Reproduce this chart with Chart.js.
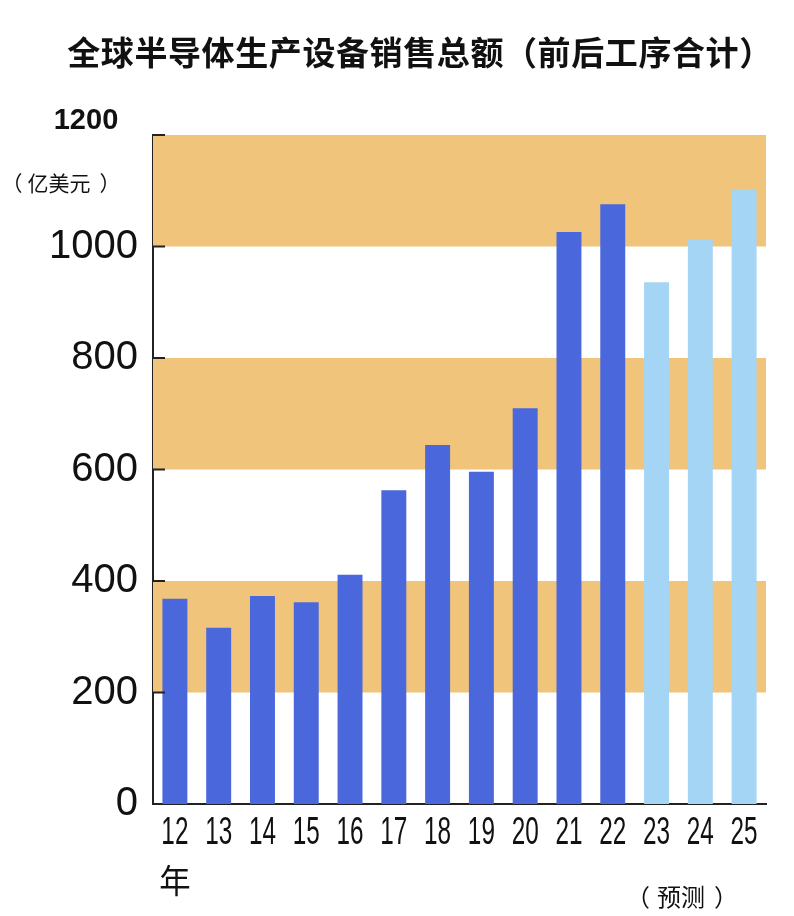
<!DOCTYPE html>
<html>
<head>
<meta charset="utf-8">
<script src="https://cdn.jsdelivr.net/npm/chart.js@4"></script>
<style>
  html, body { margin: 0; padding: 0; background: #fff; }
  #wrap { width: 794px; height: 916px; }
</style>
</head>
<body>
<div id="wrap"><canvas id="salesChart"></canvas></div>
<script>
const years = ['12', '13', '14', '15', '16', '17', '18', '19', '20', '21', '22', '23', '24', '25'];
const actualSales = [368, 316, 373, 362, 411, 563, 644, 596, 710, 1026, 1076, null, null, null];
const forecastSales = [null, null, null, null, null, null, null, null, null, null, null, 936, 1012, 1103];
const yTicks = [0, 200, 400, 600, 800, 1000, 1200];
const bands = [[200, 400], [600, 800], [1000, 1200]];

const titleText = '全球半导体生产设备销售总额（前后工序合计）';
const unitText = '亿美元';
const forecastText = '预测';

const cjk = '"Noto Sans CJK SC", "Noto Sans", sans-serif';
const latin = '"Liberation Sans", Arial, sans-serif';

// shaded bands behind the bars
const bandPlugin = {
    id: 'bands',
    beforeDatasetsDraw(chart) {
        const { ctx, chartArea, scales } = chart;
        ctx.save();
        ctx.fillStyle = '#f0c47a';
        bands.forEach(([lo, hi]) => {
            const y1 = scales.y.getPixelForValue(hi);
            const y2 = scales.y.getPixelForValue(lo);
            ctx.fillRect(chartArea.left, y1, chartArea.right - chartArea.left, y2 - y1);
        });
        ctx.restore();
    }
};

// draws a string squeezed horizontally (the year labels are condensed)
function narrowText(ctx, text, x, y, squeeze) {
    ctx.save();
    ctx.translate(x, y);
    ctx.scale(squeeze, 1);
    ctx.fillText(text, 0, 0);
    ctx.restore();
}

// inner tick marks, year labels, top value and the free texts
const textPlugin = {
    id: 'texts',
    afterDraw(chart) {
        const { ctx, chartArea, scales } = chart;
        ctx.save();
        ctx.strokeStyle = '#222';
        ctx.lineWidth = 2;
        yTicks.forEach(v => {
            if (v === 0) return;
            const y = scales.y.getPixelForValue(v);
            ctx.beginPath();
            ctx.moveTo(chartArea.left, y);
            ctx.lineTo(chartArea.left + 12, y);
            ctx.stroke();
        });

        ctx.fillStyle = '#111';
        ctx.textBaseline = 'middle';
        ctx.textAlign = 'center';

        // year labels at the category positions of the x scale
        ctx.font = '38px ' + latin;
        years.forEach((yr, i) => {
            narrowText(ctx, yr, scales.x.getPixelForTick(i), chartArea.bottom + 30, 0.64);
        });
        ctx.font = '33px ' + cjk;
        narrowText(ctx, '年', scales.x.getPixelForTick(0), chartArea.bottom + 76, 0.95);

        ctx.font = 'bold 33px ' + cjk;
        ctx.letterSpacing = '0.6px';
        ctx.fillText(titleText, 420, 52);
        ctx.letterSpacing = '0px';

        ctx.font = 'bold 29px ' + latin;
        ctx.fillText('1200', 86, scales.y.getPixelForValue(1200) - 14);

        ctx.font = '21px ' + cjk;
        ctx.fillText('（', 12, 183);
        ctx.fillText(unitText, 59, 183);
        ctx.fillText('）', 110, 183);

        ctx.font = '24px ' + cjk;
        ctx.fillText('（', 638, 897);
        ctx.fillText(forecastText, 681, 897);
        ctx.fillText('）', 726, 897);
        ctx.restore();
    }
};

new Chart(document.getElementById('salesChart'), {
    type: 'bar',
    data: {
        labels: years,
        datasets: [
            { label: '实际', data: actualSales, backgroundColor: '#4a68dc' },
            { label: '预测', data: forecastSales, backgroundColor: '#a5d5f5' }
        ]
    },
    options: {
        responsive: true,
        maintainAspectRatio: false,
        animation: false,
        layout: { padding: { top: 135, right: 28, left: 0, bottom: 0 } },
        datasets: {
            bar: { grouped: false, barPercentage: 0.57, categoryPercentage: 1 }
        },
        plugins: {
            legend: { display: false },
            tooltip: { enabled: false }
        },
        scales: {
            x: {
                grid: { display: false, drawTicks: false },
                border: { color: '#222', width: 2 },
                ticks: { display: false },
                afterFit: (scale) => { scale.height = 112; }
            },
            y: {
                min: 0,
                max: 1200,
                grid: { display: false, drawTicks: false },
                border: { color: '#222', width: 2 },
                ticks: {
                    stepSize: 200,
                    color: '#111',
                    padding: 15,
                    font: { family: latin, size: 40 },
                    callback: (v) => v === 1200 ? '' : v
                },
                afterFit: (scale) => { scale.width = 153; }
            }
        }
    },
    plugins: [bandPlugin, textPlugin]
});
</script>
</body>
</html>
